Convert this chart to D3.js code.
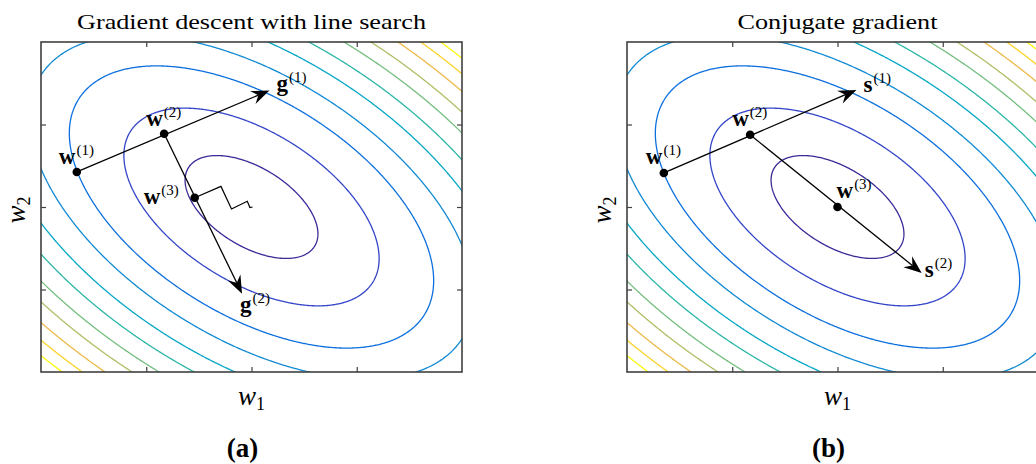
<!DOCTYPE html>
<html>
<head>
<meta charset="utf-8">
<script src="https://cdn.jsdelivr.net/npm/d3@7"></script>
<style>
  body { margin: 0; background: #fff; }
  svg { display: block; }
  text { font-family: "Liberation Serif", "DejaVu Serif", serif; fill: #000; }
</style>
</head>
<body>
<svg id="chart" width="1036" height="464"></svg>
<script>
// ---------- data ----------
const xDomain = [-2, 2];
const yDomain = [-1.6, 1.6];
const xTicks = [-1, 0, 1];
const yTicks = [-0.8, 0, 0.8];

// quadratic error surface E = h11 w1^2 + 2 h12 w1 w2 + h22 w2^2
const hessian = [[1, 0.66], [0.66, 1.6]];
const contourLevels = [0.29, 1.07, 2.18, 3.24, 4.45, 5.54, 6.72, 7.78, 8.97, 10.08, 11.13];

// (a) gradient descent with line search
const gdPoints = [[-1.66, 0.34], [-0.83, 0.71], [-0.54, 0.09]];
const gdTips = [[0.17, 1.13], [-0.09, -0.84]];
const gdZigzag = [[-0.54, 0.09], [-0.29, 0.20], [-0.19, -0.02], [-0.04, 0.055], [-0.015, -0.005], [0.01, 0.0]];

// (b) conjugate gradient
const cgPoints = [[-1.65, 0.33], [-0.83, 0.70], [0.0, 0.0]];
const cgTips = [[0.18, 1.135], [0.80, -0.64]];

const pointSups = ["(1)", "(2)", "(3)"];
const arrowSups = ["(1)", "(2)"];

// parula colormap samples (every 4th of 64)
const parula = ["#3b2a98", "#3a42c4", "#0d63e0", "#0d75dc", "#1485d4", "#0998d1", "#06a7c6", "#15b1b4",
  "#38b99e", "#65be86", "#92bf73", "#b7bd64", "#d9ba56", "#f8ba44", "#fcce2e", "#f5e41d", "#f9fb0e"];
const parulaPos = [0, 4, 8, 12, 16, 20, 24, 28, 32, 36, 40, 44, 48, 52, 56, 60, 63].map(d => d / 63);

// ---------- layout ----------
const plotTop = 42, plotW = 421, plotH = 330;
const svg = d3.select("#chart");

const parulaScale = d3.scaleLinear().domain(parulaPos).range(parula);
const levelColor = d3.scaleLinear()
    .domain([contourLevels[0], contourLevels[contourLevels.length - 1]])
    .range([0, 1]);

// grid of the error surface, a bit larger than the visible box
const step = 0.01, gx0 = -2.4, gy0 = -2.0;
const nx = Math.round(4.8 / step) + 1, ny = Math.round(4.0 / step) + 1;
const values = new Array(nx * ny);
for (let j = 0; j < ny; j++) {
    for (let i = 0; i < nx; i++) {
        const a = gx0 + i * step, b = gy0 + j * step;
        values[j * nx + i] = hessian[0][0] * a * a + 2 * hessian[0][1] * a * b + hessian[1][1] * b * b;
    }
}
const contours = d3.contours().size([nx, ny]).thresholds(contourLevels)(values);

function drawLabel(g, px, py, sym, sup) {
    const t = g.append("text").attr("x", px).attr("y", py);
    t.append("tspan").attr("font-weight", "bold").attr("font-size", 23).text(sym);
    t.append("tspan").attr("font-size", 15).attr("dy", -9).attr("dx", 1).text(sup);
}

// swept-back arrow head, tip at p1
function arrowHead(g, p0, p1) {
    const ang = Math.atan2(p1[1] - p0[1], p1[0] - p0[0]);
    const L = 18, W = 14, N = 12;
    const pts = [[0, 0], [-L, W / 2], [-N, 0], [-L, -W / 2]].map(([u, v]) => [
        p1[0] + u * Math.cos(ang) - v * Math.sin(ang),
        p1[1] + u * Math.sin(ang) + v * Math.cos(ang)
    ]);
    g.append("path").attr("d", "M" + pts.join("L") + "Z").attr("fill", "#000");
}

function drawPanel(cfg) {
    const g = svg.append("g");
    const x = d3.scaleLinear().domain(xDomain).range([cfg.left, cfg.left + plotW]);
    const y = d3.scaleLinear().domain(yDomain).range([plotTop + plotH, plotTop]);
    const clipId = "clip" + cfg.id;

    g.append("clipPath").attr("id", clipId).append("rect")
        .attr("x", cfg.left).attr("y", plotTop).attr("width", plotW).attr("height", plotH);

    const proj = d3.geoTransform({
        point: function(px, py) {
            this.stream.point(x(gx0 + (px - 0.5) * step), y(gy0 + (py - 0.5) * step));
        }
    });
    g.append("g").attr("clip-path", `url(#${clipId})`)
        .selectAll("path").data(contours).join("path")
        .attr("d", d3.geoPath(proj))
        .attr("fill", "none")
        .attr("stroke", d => parulaScale(levelColor(d.value)))
        .attr("stroke-width", 1.3);

    // axes with inward ticks, no labels
    const axes = [
        [d3.axisBottom(x).tickValues(xTicks), `translate(0,${plotTop + plotH})`],
        [d3.axisTop(x).tickValues(xTicks), `translate(0,${plotTop})`],
        [d3.axisLeft(y).tickValues(yTicks), `translate(${cfg.left},0)`],
        [d3.axisRight(y).tickValues(yTicks), `translate(${cfg.left + plotW},0)`]
    ];
    axes.forEach(([ax, tr]) => {
        const a = g.append("g").attr("transform", tr)
            .call(ax.tickSize(-5).tickSizeOuter(0).tickFormat(""));
        a.select(".domain").remove();
        a.selectAll("line").attr("stroke", "#404040").attr("stroke-width", 1.2);
    });
    g.append("rect")
        .attr("x", cfg.left).attr("y", plotTop).attr("width", plotW).attr("height", plotH)
        .attr("fill", "none").attr("stroke", "#404040").attr("stroke-width", 1.6);

    // search lines
    const line = d3.line().x(d => x(d[0])).y(d => y(d[1]));
    const pts = cfg.points, tips = cfg.tips;
    [[pts[0], tips[0]], [pts[1], tips[1]]].forEach(([p, t]) => {
        const a = [x(p[0]), y(p[1])], b = [x(t[0]), y(t[1])];
        const ang = Math.atan2(b[1] - a[1], b[0] - a[0]);
        const end = [b[0] - 12 * Math.cos(ang), b[1] - 12 * Math.sin(ang)];
        g.append("path").attr("d", "M" + a + "L" + end)
            .attr("stroke", "#000").attr("stroke-width", 1.3).attr("fill", "none");
        arrowHead(g, a, b);
    });
    if (cfg.zigzag) {
        g.append("path").attr("d", line(cfg.zigzag))
            .attr("stroke", "#000").attr("stroke-width", 1.2).attr("fill", "none");
    }

    g.selectAll("circle.pt").data(pts).join("circle")
        .attr("cx", d => x(d[0])).attr("cy", d => y(d[1])).attr("r", 4.3).attr("fill", "#000");

    pts.forEach((p, i) => {
        const o = cfg.pointOffsets[i];
        drawLabel(g, x(p[0]) + o[0], y(p[1]) + o[1], "w", pointSups[i]);
    });
    tips.forEach((t, i) => {
        const o = cfg.tipOffsets[i];
        drawLabel(g, x(t[0]) + o[0], y(t[1]) + o[1], cfg.dirSym, arrowSups[i]);
    });

    // titles and axis labels
    const cx = cfg.left + plotW / 2;
    g.append("text").attr("x", cx).attr("y", 29).attr("text-anchor", "middle")
        .attr("font-size", 21).attr("textLength", cfg.titleLen).attr("lengthAdjust", "spacingAndGlyphs")
        .text(cfg.title);

    const xl = g.append("text").attr("x", cx).attr("y", 405).attr("text-anchor", "middle").attr("font-size", 27);
    xl.append("tspan").attr("font-style", "italic").text("w");
    xl.append("tspan").attr("font-size", 18).attr("dy", 5).text("1");

    const yl = g.append("text").attr("transform", `translate(${cfg.left - 16},210) rotate(-90)`)
        .attr("text-anchor", "middle").attr("font-size", 27);
    yl.append("tspan").attr("font-style", "italic").text("w");
    yl.append("tspan").attr("font-size", 18).attr("dy", 5).text("2");

    g.append("text").attr("x", cx - 9).attr("y", 457).attr("text-anchor", "middle")
        .attr("font-size", 27).attr("font-weight", "bold").text(cfg.tag);
}

drawPanel({
    id: "a", left: 41, title: "Gradient descent with line search", titleLen: 349, tag: "(a)",
    points: gdPoints, tips: gdTips, zigzag: gdZigzag, dirSym: "g",
    pointOffsets: [[-18, -8], [-18, -8], [-51, 6]],
    tipOffsets: [[7, 1], [-2, 18]]
});
drawPanel({
    id: "b", left: 627, title: "Conjugate gradient", titleLen: 200, tag: "(b)",
    points: cgPoints, tips: cgTips, dirSym: "s",
    pointOffsets: [[-18, -9], [-18, -9], [-1, -9]],
    tipOffsets: [[7, 2], [3, 4]]
});
</script>
</body>
</html>
